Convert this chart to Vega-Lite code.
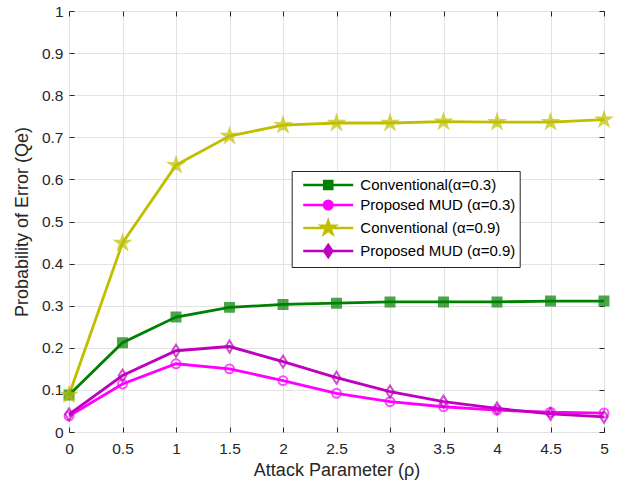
{
  "$schema": "https://vega.github.io/schema/vega-lite/v6.json",
  "width": 535,
  "height": 421,
  "autosize": {"type": "none"},
  "padding": {"left": 69, "top": 11, "right": 14, "bottom": 56},
  "background": "white",
  "config": {
    "font": "Liberation Sans",
    "view": {"stroke": "#262626", "strokeWidth": 1},
    "axis": {
      "labelFont": "Liberation Sans",
      "titleFont": "Liberation Sans",
      "labelColor": "#262626",
      "titleColor": "#262626",
      "labelFontSize": 15.5,
      "titleFontSize": 18,
      "titleFontWeight": "normal",
      "gridColor": "#e3e3e3",
      "gridWidth": 1,
      "domain": false,
      "tickColor": "#262626",
      "tickSize": -5,
      "tickWidth": 1
    }
  },
  "data": {
    "values": [
      {"x": 0, "y": 0.088, "series": "Conventional(α=0.3)"},
      {"x": 0.5, "y": 0.212, "series": "Conventional(α=0.3)"},
      {"x": 1, "y": 0.273, "series": "Conventional(α=0.3)"},
      {"x": 1.5, "y": 0.296, "series": "Conventional(α=0.3)"},
      {"x": 2, "y": 0.303, "series": "Conventional(α=0.3)"},
      {"x": 2.5, "y": 0.306, "series": "Conventional(α=0.3)"},
      {"x": 3, "y": 0.309, "series": "Conventional(α=0.3)"},
      {"x": 3.5, "y": 0.309, "series": "Conventional(α=0.3)"},
      {"x": 4, "y": 0.309, "series": "Conventional(α=0.3)"},
      {"x": 4.5, "y": 0.311, "series": "Conventional(α=0.3)"},
      {"x": 5, "y": 0.311, "series": "Conventional(α=0.3)"},
      {"x": 0, "y": 0.038, "series": "Proposed MUD (α=0.3)"},
      {"x": 0.5, "y": 0.114, "series": "Proposed MUD (α=0.3)"},
      {"x": 1, "y": 0.162, "series": "Proposed MUD (α=0.3)"},
      {"x": 1.5, "y": 0.150, "series": "Proposed MUD (α=0.3)"},
      {"x": 2, "y": 0.122, "series": "Proposed MUD (α=0.3)"},
      {"x": 2.5, "y": 0.092, "series": "Proposed MUD (α=0.3)"},
      {"x": 3, "y": 0.072, "series": "Proposed MUD (α=0.3)"},
      {"x": 3.5, "y": 0.060, "series": "Proposed MUD (α=0.3)"},
      {"x": 4, "y": 0.052, "series": "Proposed MUD (α=0.3)"},
      {"x": 4.5, "y": 0.047, "series": "Proposed MUD (α=0.3)"},
      {"x": 5, "y": 0.045, "series": "Proposed MUD (α=0.3)"},
      {"x": 0, "y": 0.088, "series": "Conventional (α=0.9)"},
      {"x": 0.5, "y": 0.449, "series": "Conventional (α=0.9)"},
      {"x": 1, "y": 0.634, "series": "Conventional (α=0.9)"},
      {"x": 1.5, "y": 0.703, "series": "Conventional (α=0.9)"},
      {"x": 2, "y": 0.729, "series": "Conventional (α=0.9)"},
      {"x": 2.5, "y": 0.734, "series": "Conventional (α=0.9)"},
      {"x": 3, "y": 0.734, "series": "Conventional (α=0.9)"},
      {"x": 3.5, "y": 0.737, "series": "Conventional (α=0.9)"},
      {"x": 4, "y": 0.736, "series": "Conventional (α=0.9)"},
      {"x": 4.5, "y": 0.736, "series": "Conventional (α=0.9)"},
      {"x": 5, "y": 0.742, "series": "Conventional (α=0.9)"},
      {"x": 0, "y": 0.042, "series": "Proposed MUD (α=0.9)"},
      {"x": 0.5, "y": 0.134, "series": "Proposed MUD (α=0.9)"},
      {"x": 1, "y": 0.193, "series": "Proposed MUD (α=0.9)"},
      {"x": 1.5, "y": 0.203, "series": "Proposed MUD (α=0.9)"},
      {"x": 2, "y": 0.167, "series": "Proposed MUD (α=0.9)"},
      {"x": 2.5, "y": 0.129, "series": "Proposed MUD (α=0.9)"},
      {"x": 3, "y": 0.096, "series": "Proposed MUD (α=0.9)"},
      {"x": 3.5, "y": 0.072, "series": "Proposed MUD (α=0.9)"},
      {"x": 4, "y": 0.056, "series": "Proposed MUD (α=0.9)"},
      {"x": 4.5, "y": 0.043, "series": "Proposed MUD (α=0.9)"},
      {"x": 5, "y": 0.036, "series": "Proposed MUD (α=0.9)"}
    ]
  },
  "layer": [
    {
      "mark": {"type": "line", "strokeWidth": 2.8},
      "encoding": {
        "x": {
          "field": "x", "type": "quantitative",
          "scale": {"domain": [0, 5], "nice": false, "zero": false},
          "axis": {
            "orient": "bottom",
            "values": [0, 0.5, 1, 1.5, 2, 2.5, 3, 3.5, 4, 4.5, 5],
            "format": "~g",
            "title": "Attack Parameter (ρ)",
            "grid": true,
            "labelPadding": 14,
            "titlePadding": 5,
            "labelFlush": false
          }
        },
        "y": {
          "field": "y", "type": "quantitative",
          "scale": {"domain": [0, 1], "nice": false},
          "axis": {
            "orient": "left",
            "values": [0, 0.1, 0.2, 0.3, 0.4, 0.5, 0.6, 0.7, 0.8, 0.9, 1],
            "format": "~g",
            "title": "Probability of Error (Qe)",
            "grid": true,
            "labelPadding": 11,
            "titlePadding": 10,
            "labelFlush": false
          }
        },
        "color": {
          "field": "series", "type": "nominal",
          "scale": {
            "domain": ["Conventional(α=0.3)", "Proposed MUD (α=0.3)", "Conventional (α=0.9)", "Proposed MUD (α=0.9)"],
            "range": ["#008000", "#ff00ff", "#bfbf00", "#bf00bf"]
          },
          "legend": null
        }
      }
    },
    {
      "mark": {"type": "point", "filled": true, "strokeWidth": 2, "size": 80},
      "encoding": {
        "x": {
          "field": "x", "type": "quantitative",
          "axis": {"orient": "top", "values": [0, 0.5, 1, 1.5, 2, 2.5, 3, 3.5, 4, 4.5, 5], "labels": false, "title": null, "grid": false}
        },
        "y": {
          "field": "y", "type": "quantitative",
          "axis": {"orient": "right", "values": [0, 0.1, 0.2, 0.3, 0.4, 0.5, 0.6, 0.7, 0.8, 0.9, 1], "labels": false, "title": null, "grid": false}
        },
        "fill": {
          "field": "series", "type": "nominal",
          "scale": {
            "domain": ["Conventional(α=0.3)", "Proposed MUD (α=0.3)", "Conventional (α=0.9)", "Proposed MUD (α=0.9)"],
            "range": ["#008000", "#ff00ff", "#bfbf00", "#bf00bf"]
          },
          "legend": null
        },
        "stroke": {
          "field": "series", "type": "nominal",
          "scale": {
            "domain": ["Conventional(α=0.3)", "Proposed MUD (α=0.3)", "Conventional (α=0.9)", "Proposed MUD (α=0.9)"],
            "range": ["#008000", "#ff00ff", "#bfbf00", "#bf00bf"]
          },
          "legend": null
        },
        "fillOpacity": {
          "condition": {"test": "datum.series === 'Conventional(α=0.3)' || datum.series === 'Conventional (α=0.9)'", "value": 1},
          "value": 0
        },
        "shape": {
          "field": "series", "type": "nominal",
          "scale": {
            "domain": ["Conventional(α=0.3)", "Proposed MUD (α=0.3)", "Conventional (α=0.9)", "Proposed MUD (α=0.9)"],
            "range": [
              "square",
              "circle",
              "M0,-1.6L0.36,-0.494L1.522,-0.494L0.581,0.189L0.941,1.294L0,0.611L-0.941,1.294L-0.581,0.189L-1.522,-0.494L-0.36,-0.494Z",
              "M0,-1.35L0.85,0L0,1.35L-0.85,0Z"
            ]
          },
          "legend": null
        }
      }
    },
    {
      "mark": {"type": "point", "filled": true, "opacity": 0},
      "encoding": {
        "x": {"field": "x", "type": "quantitative", "axis": null},
        "y": {"field": "y", "type": "quantitative", "axis": null},
        "fill": {
          "field": "series", "type": "nominal",
          "scale": {
            "domain": ["Conventional(α=0.3)", "Proposed MUD (α=0.3)", "Conventional (α=0.9)", "Proposed MUD (α=0.9)"],
            "range": ["#008000", "#ff00ff", "#bfbf00", "#bf00bf"]
          },
          "legend": {
            "orient": "none", "legendX": 222.7, "legendY": 160, "title": null,
            "fillColor": "white", "strokeColor": "#262626", "padding": 4,
            "symbolSize": 289, "symbolStrokeWidth": 2.6, "symbolOpacity": 1,
            "labelFont": "Liberation Sans", "labelFontSize": 15, "labelColor": "#000000",
            "labelOffset": 44.6, "rowPadding": 0
          }
        },
        "stroke": {
          "field": "series", "type": "nominal",
          "scale": {
            "domain": ["Conventional(α=0.3)", "Proposed MUD (α=0.3)", "Conventional (α=0.9)", "Proposed MUD (α=0.9)"],
            "range": ["#008000", "#ff00ff", "#bfbf00", "#bf00bf"]
          },
          "legend": {
            "orient": "none", "legendX": 222.7, "legendY": 160, "title": null,
            "fillColor": "white", "strokeColor": "#262626", "padding": 4,
            "symbolSize": 289, "symbolStrokeWidth": 2.6, "symbolOpacity": 1,
            "labelFont": "Liberation Sans", "labelFontSize": 15, "labelColor": "#000000",
            "labelOffset": 44.6, "rowPadding": 0
          }
        },
        "shape": {
          "field": "series", "type": "nominal",
          "scale": {
            "domain": ["Conventional(α=0.3)", "Proposed MUD (α=0.3)", "Conventional (α=0.9)", "Proposed MUD (α=0.9)"],
            "range": [
              "M-0.29,0H5.59M2.18,-0.47H3.12V0.47H2.18Z",
              "M-0.29,0H5.59M3.15,0A0.5,0.5,0,1,1,2.15,0A0.5,0.5,0,1,1,3.15,0Z",
              "M-0.29,0H5.59M2.65,-0.82L2.835,-0.253L3.43,-0.253L2.948,0.097L3.132,0.663L2.65,0.313L2.168,0.663L2.352,0.097L1.87,-0.253L2.465,-0.253Z",
              "M-0.29,0H5.59M2.65,-0.7L3.12,0L2.65,0.7L2.18,0Z"
            ]
          },
          "legend": {
            "orient": "none", "legendX": 222.7, "legendY": 160, "title": null,
            "fillColor": "white", "strokeColor": "#262626", "padding": 4,
            "symbolSize": 289, "symbolStrokeWidth": 2.6, "symbolOpacity": 1,
            "labelFont": "Liberation Sans", "labelFontSize": 15, "labelColor": "#000000",
            "labelOffset": 44.6, "rowPadding": 0
          }
        }
      }
    }
  ],
  "resolve": {
    "scale": {"fill": "independent", "stroke": "independent", "shape": "independent", "color": "independent"},
    "axis": {"x": "independent", "y": "independent"}
  }
}
